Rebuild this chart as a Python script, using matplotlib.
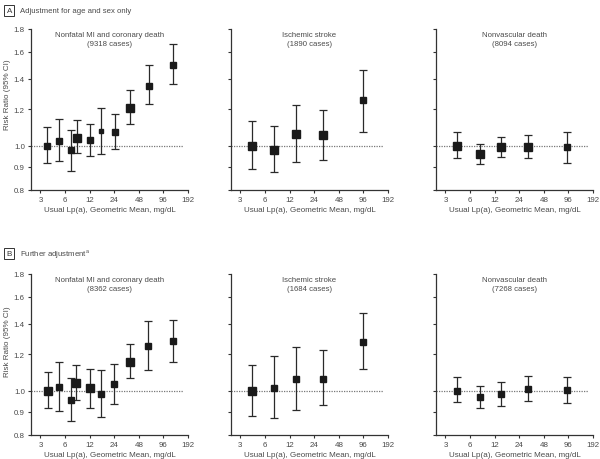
import matplotlib.pyplot as plt
from matplotlib.ticker import FixedLocator, NullLocator

plt.rcParams['font.family'] = ['Liberation Sans', 'DejaVu Sans']

# ---- data ----
# Row A: adjustment for age and sex only
chd_a_x = [3.65, 5.05, 7.1, 8.5, 12.2, 16.7, 24.2, 37.8, 64, 127]
chd_a_rr = [1.00, 1.025, 0.977, 1.041, 1.027, 1.075, 1.069, 1.21, 1.352, 1.495]
chd_a_lo = [0.915, 0.926, 0.882, 0.961, 0.951, 0.957, 0.985, 1.117, 1.233, 1.364]
chd_a_hi = [1.10, 1.145, 1.082, 1.136, 1.117, 1.206, 1.173, 1.325, 1.497, 1.662]

stroke_a_x = [4.13, 7.8, 14.5, 30.9, 95]
stroke_a_rr = [1.00, 0.977, 1.058, 1.052, 1.254]
stroke_a_lo = [0.889, 0.876, 0.920, 0.931, 1.073]
stroke_a_hi = [1.132, 1.102, 1.223, 1.198, 1.463]

nonvasc_a_x = [4.17, 7.87, 14.3, 30.5, 91]
nonvasc_a_rr = [1.00, 0.959, 0.992, 0.994, 0.995]
nonvasc_a_lo = [0.941, 0.912, 0.946, 0.938, 0.915]
nonvasc_a_hi = [1.069, 1.009, 1.045, 1.052, 1.073]

# Row B: further adjustment
chd_b_x = [3.7, 5.0, 7.0, 8.1, 12.0, 16.7, 23.8, 37.3, 63, 127]
chd_b_rr = [1.00, 1.017, 0.954, 1.041, 1.012, 0.982, 1.032, 1.155, 1.252, 1.284]
chd_b_lo = [0.917, 0.903, 0.857, 0.954, 0.918, 0.876, 0.935, 1.066, 1.107, 1.155]
chd_b_hi = [1.098, 1.153, 1.064, 1.139, 1.113, 1.110, 1.144, 1.262, 1.416, 1.427]

stroke_b_x = [4.13, 7.8, 14.5, 30.9, 95]
stroke_b_rr = [1.00, 1.014, 1.058, 1.062, 1.275]
stroke_b_lo = [0.882, 0.872, 0.908, 0.931, 1.113]
stroke_b_hi = [1.139, 1.188, 1.247, 1.223, 1.475]

nonvasc_b_x = [4.17, 7.87, 14.3, 30.5, 91]
nonvasc_b_rr = [1.00, 0.967, 0.985, 1.009, 1.002]
nonvasc_b_lo = [0.942, 0.917, 0.927, 0.950, 0.940]
nonvasc_b_hi = [1.069, 1.022, 1.046, 1.077, 1.069]

titles_a = ["Nonfatal MI and coronary death\n(9318 cases)",
            "Ischemic stroke\n(1890 cases)",
            "Nonvascular death\n(8094 cases)"]
titles_b = ["Nonfatal MI and coronary death\n(8362 cases)",
            "Ischemic stroke\n(1684 cases)",
            "Nonvascular death\n(7268 cases)"]

x_ticks = [3, 6, 12, 24, 48, 96, 192]
y_ticks = [0.8, 0.9, 1.0, 1.2, 1.4, 1.6, 1.8]

# marker sizes (px) roughly follow the square sizes in the reference
sz_a = [[5.3, 5, 5, 6, 5.3, 4, 5.7, 6.7, 5.7, 5.7],
        [6.7, 6, 6, 6, 5],
        [6, 6.7, 6.7, 6, 5]]
sz_b = [[6, 5, 4.7, 6, 6, 4.7, 5.7, 6.5, 4.7, 5.3],
        [6.7, 5.3, 5.3, 5.3, 5.7],
        [5.3, 5.7, 5.7, 4.7, 5]]

txt_col = '#4a4a4a'
fig = plt.figure(figsize=(6, 4.6), dpi=100)

cols_x = [0.0517, 0.385, 0.7267]
row_y = {'A': 0.5848, 'B': 0.0522}
ax_w, ax_h = 0.2617, 0.351
ylab_y = {'A': 0.596, 'B': 0.586}

rows = {
    'A': [(chd_a_x, chd_a_rr, chd_a_lo, chd_a_hi),
          (stroke_a_x, stroke_a_rr, stroke_a_lo, stroke_a_hi),
          (nonvasc_a_x, nonvasc_a_rr, nonvasc_a_lo, nonvasc_a_hi)],
    'B': [(chd_b_x, chd_b_rr, chd_b_lo, chd_b_hi),
          (stroke_b_x, stroke_b_rr, stroke_b_lo, stroke_b_hi),
          (nonvasc_b_x, nonvasc_b_rr, nonvasc_b_lo, nonvasc_b_hi)],
}
row_titles = {'A': titles_a, 'B': titles_b}
row_sizes = {'A': sz_a, 'B': sz_b}

for key in ['A', 'B']:
    for j in range(3):
        ax = fig.add_axes([cols_x[j], row_y[key], ax_w, ax_h])
        xs, rr, lo, hi = rows[key][j]
        ax.axhline(1.0, color='#777777', lw=0.9, ls=(0, (1, 1)), xmax=0.97, zorder=1)
        for k in range(len(xs)):
            ax.errorbar(xs[k], rr[k], yerr=[[rr[k] - lo[k]], [hi[k] - rr[k]]],
                        fmt='s', color='#1a1a1a', ecolor='#2a2a2a', elinewidth=0.9,
                        capsize=2.6, capthick=0.9,
                        markersize=row_sizes[key][j][k] * 0.88, zorder=3)
        ax.set_xscale('log', base=2)
        ax.set_yscale('log')
        ax.set_xlim(2.3, 192)
        ax.set_ylim(0.8, 1.8)
        ax.xaxis.set_major_locator(FixedLocator(x_ticks))
        ax.xaxis.set_minor_locator(NullLocator())
        ax.set_xticklabels([str(t) for t in x_ticks])
        ax.yaxis.set_major_locator(FixedLocator(y_ticks))
        ax.yaxis.set_minor_locator(NullLocator())
        if j == 0:
            ax.set_yticklabels([f"{t:.1f}" for t in y_ticks])
            ax.set_ylabel("Risk Ratio (95% CI)", fontsize=5.8, color=txt_col)
            ax.yaxis.set_label_coords(-0.125, ylab_y[key])
        else:
            ax.set_yticklabels([])
        ax.set_xlabel("Usual Lp(a), Geometric Mean, mg/dL", fontsize=5.8,
                      color=txt_col, labelpad=2)
        ax.tick_params(labelsize=5.7, colors='#333333', labelcolor=txt_col,
                       length=2.5, width=0.8, pad=2)
        for s in ['top', 'right']:
            ax.spines[s].set_visible(False)
        for s in ['left', 'bottom']:
            ax.spines[s].set_color('#333333')
            ax.spines[s].set_linewidth(0.9)
        ax.text(0.5, 0.985, row_titles[key][j], transform=ax.transAxes,
                ha='center', va='top', fontsize=5.6, color=txt_col, linespacing=1.35)

# panel headers
for lab, txt, ypx in [("A", "Adjustment for age and sex only", 11.5),
                      ("B", "Further adjustment$^{\\mathregular{a}}$", 254.5)]:
    fig.text(0.011, 1 - ypx / 460, lab, fontsize=5.8, color='#333333',
             va='center', ha='left',
             bbox=dict(boxstyle='square,pad=0.3', fc='white', ec='#333333', lw=0.7))
    fig.text(0.034, 1 - ypx / 460, txt, fontsize=5.6, color=txt_col,
             va='center', ha='left')

plt.savefig("out.png", dpi=100)
